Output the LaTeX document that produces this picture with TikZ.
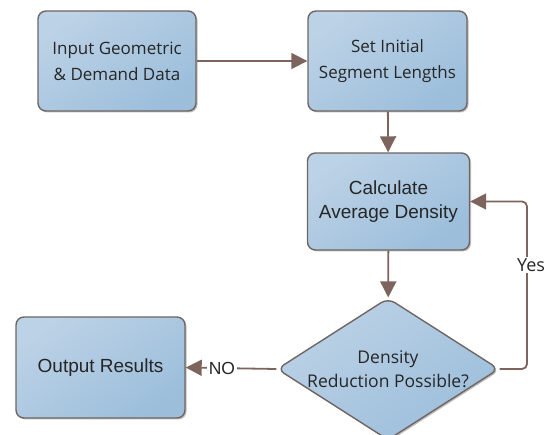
\documentclass[tikz,border=0pt]{standalone}
\usepackage{fontspec}
\setmainfont{Open Sans}
\newfontfamily\arialfont{Liberation Sans}
\usetikzlibrary{shapes.geometric,arrows.meta,shadows}
\definecolor{fillA}{HTML}{BCD2E6}
\definecolor{fillB}{HTML}{9CBEDB}
\definecolor{edgeC}{HTML}{6F6663}
\definecolor{arrC}{HTML}{7D655E}
\tikzset{
  x=1pt,y=-1pt,
  flowbox/.style={draw=edgeC, line width=1.4pt, rounded corners=8pt,
    top color=fillA, bottom color=fillB, shading angle=35,
    drop shadow={shadow xshift=1.5pt, shadow yshift=-1.5pt, opacity=0.25, fill=black},
    align=center, inner sep=0pt, text=black!85},
  decision/.style={diamond, draw=edgeC, line width=1.4pt, rounded corners=8pt,
    top color=fillA, bottom color=fillB, shading angle=35,
    drop shadow={shadow xshift=1.5pt, shadow yshift=-1.5pt, opacity=0.25, fill=black},
    align=center, inner sep=0pt, text=black!85, aspect=1.6},
  conn/.style={draw=arrC, line width=1.8pt, -{Triangle[length=16pt,width=16pt]}},
  lbl/.style={fill=white, inner sep=1.5pt, text=black!85}
}
\begin{document}
\begin{tikzpicture}
\useasboundingbox (0,0) rectangle (549,435);
\node[flowbox, minimum width=158pt, minimum height=100pt, font=\fontsize{17}{26}\selectfont] (input) at (117,61) {Input Geometric\\\& Demand Data};
\node[flowbox, minimum width=159pt, minimum height=100pt, font=\fontsize{17}{26}\selectfont] (seg) at (387.5,61) {Set Initial\\Segment Lengths};
\node[flowbox, minimum width=162pt, minimum height=97pt, font=\arialfont\fontsize{19}{23.5}\selectfont] (calc) at (388.5,201.5) {Calculate\\Average Density};
\node[decision, minimum width=222pt, minimum height=142pt, font=\fontsize{17.5}{23.5}\selectfont] (dec) at (388,369) {Density\\Reduction Possible?};
\node[flowbox, minimum width=169pt, minimum height=101pt, font=\arialfont\fontsize{19}{24}\selectfont] (out) at (100.5,367.5) {Output Results};
\coordinate (yr) at (527,369);
\coordinate (yt) at (527,201.5);
\draw[conn] (input) -- (seg);
\draw[conn] (seg) -- (calc);
\draw[conn] (calc) -- (dec);
\draw[conn] (dec.west) -- node[lbl, font=\arialfont\fontsize{17.5}{19}\selectfont, pos=0.6] {NO} (out.east);
\draw[conn, rounded corners=5pt] (dec.east) -- (yr) -- (yt) -- (calc.east);
\node[lbl, font=\fontsize{18}{20}\selectfont] (yes) at (531,265) {Yes};
\end{tikzpicture}
\end{document}
